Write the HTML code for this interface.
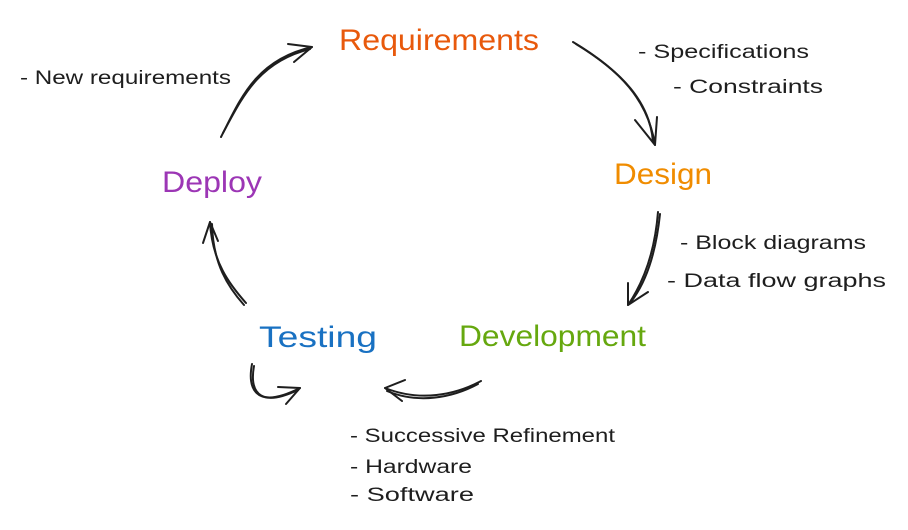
<!DOCTYPE html>
<html><head><meta charset="utf-8"><style>
html,body{margin:0;padding:0;background:#fff}
svg{display:block}
text{font-family:"Liberation Sans",sans-serif}
</style></head><body>
<svg width="908" height="530" viewBox="0 0 908 530" xmlns="http://www.w3.org/2000/svg">
<g font-size="30">
<text x="339" y="50" fill="#e8590c" textLength="200" lengthAdjust="spacingAndGlyphs">Requirements</text>
<text x="614" y="184" fill="#f08c00" textLength="98" lengthAdjust="spacingAndGlyphs">Design</text>
<text x="459" y="346" fill="#66a80f" textLength="187" lengthAdjust="spacingAndGlyphs">Development</text>
<text x="259" y="347" fill="#1971c2" textLength="118" lengthAdjust="spacingAndGlyphs">Testing</text>
<text x="162" y="192" fill="#9c36b5" textLength="100" lengthAdjust="spacingAndGlyphs">Deploy</text>
</g>
<g font-size="19" fill="#1e1e1e">
<text x="20" y="84" textLength="211" lengthAdjust="spacingAndGlyphs">- New requirements</text>
<text x="638" y="58" textLength="171" lengthAdjust="spacingAndGlyphs">- Specifications</text>
<text x="673" y="93" textLength="150" lengthAdjust="spacingAndGlyphs">- Constraints</text>
<text x="680" y="249" textLength="186" lengthAdjust="spacingAndGlyphs">- Block diagrams</text>
<text x="667" y="287" textLength="219" lengthAdjust="spacingAndGlyphs">- Data flow graphs</text>
<text x="350" y="442" textLength="265" lengthAdjust="spacingAndGlyphs">- Successive Refinement</text>
<text x="350" y="473" textLength="122" lengthAdjust="spacingAndGlyphs">- Hardware</text>
<text x="350" y="501" textLength="124" lengthAdjust="spacingAndGlyphs">- Software</text>
</g>
<g fill="none" stroke="#1e1e1e" stroke-width="2" stroke-linecap="round" stroke-linejoin="round">
<path d="M221 137 C240 100 255 60 312 47"/><path d="M223 133 C242 98 258 62 310 49"/>
<path d="M288 44 L312 47 L294 62"/>
<path d="M573 42 C620 70 648 100 655 145"/><path d="M576 44 C622 72 650 102 653 142"/>
<path d="M635 120 L655 145 L657 117"/>
<path d="M658 212 C655 250 645 280 628 305"/><path d="M660 214 C656 252 647 282 630 303"/>
<path d="M628 283 L628 305 L648 292"/>
<path d="M481 381 C455 395 420 402 385 388"/><path d="M478 384 C452 398 418 404 387 391"/>
<path d="M405 380 L385 388 L402 401"/>
<path d="M252 364 C248 385 252 412 300 388"/><path d="M254 366 C250 388 256 410 298 390"/>
<path d="M278 387 L300 388 L286 404"/>
<path d="M246 303 C230 285 212 262 210 222"/><path d="M244 305 C228 287 213 264 212 224"/>
<path d="M203 243 L210 222 L218 241"/>
</g>
</svg>
</body></html>
